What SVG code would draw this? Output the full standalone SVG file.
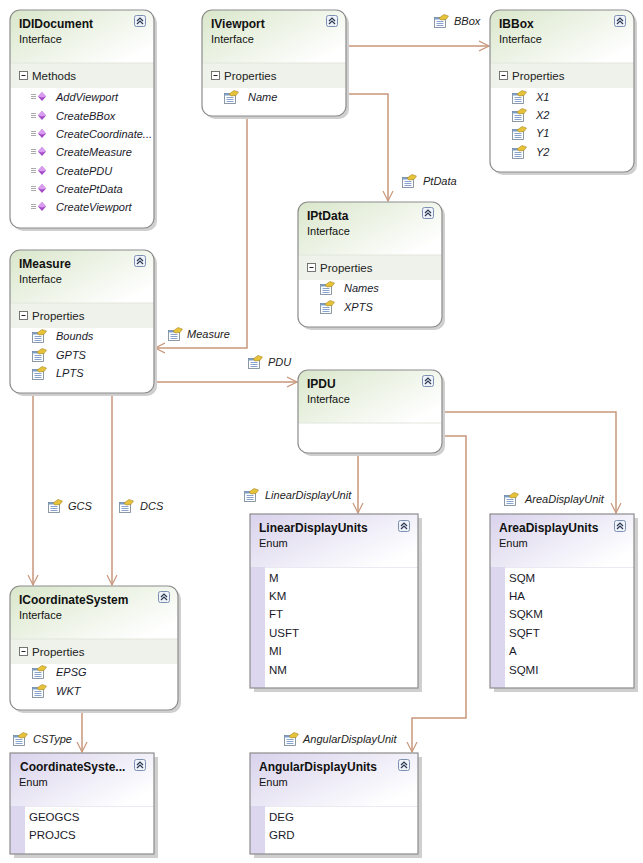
<svg xmlns="http://www.w3.org/2000/svg" xmlns:xlink="http://www.w3.org/1999/xlink" width="643" height="863" viewBox="0 0 643 863">
<style>
text{font-family:"Liberation Sans",Arial,sans-serif;fill:#111}
.title{font-size:12px;font-weight:bold}
.sub{font-size:11px}
.sec{font-size:11.5px;fill:#222}
.item{font-size:11px;font-style:italic;fill:#1a1a2a}
.eitem{font-size:11.5px;fill:#1a1a2a}
.lbl{font-size:11px;font-style:italic;fill:#222}
.shadow{fill:#cfcfcf}
.body{fill:#ffffff}
.outline{fill:none;stroke:#8c8c8c;stroke-width:1.2}
.band{fill:#eef2ea}
.sep{stroke:#e1e6dc;stroke-width:1}
.esep{stroke:#ebe9f2;stroke-width:1}
.stripe{fill:#dcd7ef}
.conn{fill:none;stroke:#c8967a;stroke-width:1.5}
</style>
<defs>
<linearGradient id="gI" x1="0" y1="0" x2="1" y2="0.7">
<stop offset="0" stop-color="#d9e6ca"/>
<stop offset="1" stop-color="#ffffff"/>
</linearGradient>
<linearGradient id="gE" x1="0" y1="0" x2="1" y2="0.7">
<stop offset="0" stop-color="#d8d2ec"/>
<stop offset="1" stop-color="#ffffff"/>
</linearGradient>
<marker id="arr" markerWidth="12" markerHeight="12" refX="10" refY="5" orient="auto" markerUnits="userSpaceOnUse" viewBox="0 0 12 10">
<path d="M0,0 L10,5 L0,10" fill="none" stroke="#c8967a" stroke-width="1.2"/>
</marker>
<g id="col">
<rect x="0.5" y="0.5" width="11" height="11" rx="2" fill="#eef3fa" stroke="#7d90b0" stroke-width="1"/>
<path d="M3,6 L6,3 L9,6 M3,9 L6,6 L9,9" fill="none" stroke="#2a3550" stroke-width="1.2"/>
</g>
<g id="minus">
<rect x="0.5" y="0.5" width="8" height="8" fill="#ffffff" stroke="#666" stroke-width="0.9"/>
<path d="M2.5,4.5 H6.5" stroke="#222" stroke-width="1"/>
</g>
<g id="prop">
<rect x="1.5" y="3.5" width="11" height="10" fill="#ffffff" stroke="#6f7f90" stroke-width="0.8"/>
<rect x="1.5" y="3.5" width="11" height="2" fill="#7c9cc8"/>
<path d="M3.5,7.5 H10.5 M3.5,9.5 H10.5 M3.5,11.5 H10.5" stroke="#6a8cc0" stroke-width="0.8"/>
<polygon points="6,4 11,0.5 15.5,2 13,5.5 8,6" fill="#e6c23a" stroke="#9a7d1a" stroke-width="0.5"/>
</g>
<g id="meth">
<path d="M0,4.5 H5 M0,6.5 H5 M0,8.5 H5" stroke="#a0a0a0" stroke-width="0.9"/>
<polygon points="7,6.5 11,2 15,6.5 11,11" fill="#a24ac6"/>
<polygon points="7,6.5 11,2 15,6.5 11,7.5" fill="#d99cf0"/>
</g>
</defs>

<g id="connectors">
<path class="conn" d="M346,46 H489" marker-end="url(#arr)"/>
<path class="conn" d="M346,94 H388 V201" marker-end="url(#arr)"/>
<path class="conn" d="M247,116 V348 H155" marker-end="url(#arr)"/>
<path class="conn" d="M154,382 H297" marker-end="url(#arr)"/>
<path class="conn" d="M358,453 V513" marker-end="url(#arr)"/>
<path class="conn" d="M442,412 H616 V513" marker-end="url(#arr)"/>
<path class="conn" d="M442,436 H466 V718 H412 V752" marker-end="url(#arr)"/>
<path class="conn" d="M33,393 V585" marker-end="url(#arr)"/>
<path class="conn" d="M112,393 V585" marker-end="url(#arr)"/>
<path class="conn" d="M82,710 V752" marker-end="url(#arr)"/>
<g id="conn-labels">
<use xlink:href="#prop" x="433" y="14"/><text class="lbl" x="454" y="25">BBox</text>
<use xlink:href="#prop" x="401" y="174"/><text class="lbl" x="423" y="185">PtData</text>
<use xlink:href="#prop" x="167" y="327"/><text class="lbl" x="187" y="338">Measure</text>
<use xlink:href="#prop" x="247" y="355"/><text class="lbl" x="268" y="366">PDU</text>
<use xlink:href="#prop" x="243" y="488"/><text class="lbl" x="265" y="499">LinearDisplayUnit</text>
<use xlink:href="#prop" x="503" y="492"/><text class="lbl" x="525" y="503">AreaDisplayUnit</text>
<use xlink:href="#prop" x="47" y="499"/><text class="lbl" x="68" y="510">GCS</text>
<use xlink:href="#prop" x="118" y="499"/><text class="lbl" x="140" y="510">DCS</text>
<use xlink:href="#prop" x="12" y="732"/><text class="lbl" x="33" y="743">CSType</text>
<use xlink:href="#prop" x="283" y="732"/><text class="lbl" x="303" y="743">AngularDisplayUnit</text>
</g>
</g>

<g id="IDIDocument">
<rect class="shadow" x="13" y="13" width="144" height="218" rx="10"/>
<rect class="body" x="10" y="10" width="144" height="218" rx="10"/>
<path d="M10,63 V20 A10,10 0 0 1 20,10 H144 A10,10 0 0 1 154,20 V63 Z" fill="url(#gI)"/>
<rect class="band" x="10.5" y="63" width="143" height="25"/>
<path class="sep" d="M10.5,63 H153.5"/>
<rect class="outline" x="10" y="10" width="144" height="218" rx="10"/>
<text class="title" x="19" y="28">IDIDocument</text>
<text class="sub" x="19" y="43">Interface</text>
<use xlink:href="#col" x="134" y="15"/>
<use xlink:href="#minus" x="19" y="71"/>
<text class="sec" x="32" y="80">Methods</text>
<use xlink:href="#meth" x="31" y="90"/><text class="item" x="56" y="101">AddViewport</text>
<use xlink:href="#meth" x="31" y="109"/><text class="item" x="56" y="120">CreateBBox</text>
<use xlink:href="#meth" x="31" y="127"/><text class="item" x="56" y="138">CreateCoordinate...</text>
<use xlink:href="#meth" x="31" y="145"/><text class="item" x="56" y="156">CreateMeasure</text>
<use xlink:href="#meth" x="31" y="164"/><text class="item" x="56" y="175">CreatePDU</text>
<use xlink:href="#meth" x="31" y="182"/><text class="item" x="56" y="193">CreatePtData</text>
<use xlink:href="#meth" x="31" y="200"/><text class="item" x="56" y="211">CreateViewport</text>
</g>

<g id="IViewport">
<rect class="shadow" x="205" y="13" width="144" height="106" rx="10"/>
<rect class="body" x="202" y="10" width="144" height="106" rx="10"/>
<path d="M202,63 V20 A10,10 0 0 1 212,10 H336 A10,10 0 0 1 346,20 V63 Z" fill="url(#gI)"/>
<rect class="band" x="202.5" y="63" width="143" height="25"/>
<path class="sep" d="M202.5,63 H345.5"/>
<rect class="outline" x="202" y="10" width="144" height="106" rx="10"/>
<text class="title" x="211" y="28">IViewport</text>
<text class="sub" x="211" y="43">Interface</text>
<use xlink:href="#col" x="326" y="15"/>
<use xlink:href="#minus" x="211" y="71"/>
<text class="sec" x="224" y="80">Properties</text>
<use xlink:href="#prop" x="223" y="90"/><text class="item" x="248" y="101">Name</text>
</g>

<g id="IBBox">
<rect class="shadow" x="493" y="13" width="144" height="162" rx="10"/>
<rect class="body" x="490" y="10" width="144" height="162" rx="10"/>
<path d="M490,63 V20 A10,10 0 0 1 500,10 H624 A10,10 0 0 1 634,20 V63 Z" fill="url(#gI)"/>
<rect class="band" x="490.5" y="63" width="143" height="25"/>
<path class="sep" d="M490.5,63 H633.5"/>
<rect class="outline" x="490" y="10" width="144" height="162" rx="10"/>
<text class="title" x="499" y="28">IBBox</text>
<text class="sub" x="499" y="43">Interface</text>
<use xlink:href="#col" x="614" y="15"/>
<use xlink:href="#minus" x="499" y="71"/>
<text class="sec" x="512" y="80">Properties</text>
<use xlink:href="#prop" x="511" y="90"/><text class="item" x="536" y="101">X1</text>
<use xlink:href="#prop" x="511" y="108"/><text class="item" x="536" y="119">X2</text>
<use xlink:href="#prop" x="511" y="126"/><text class="item" x="536" y="137">Y1</text>
<use xlink:href="#prop" x="511" y="145"/><text class="item" x="536" y="156">Y2</text>
</g>

<g id="IPtData">
<rect class="shadow" x="301" y="205" width="144" height="125" rx="10"/>
<rect class="body" x="298" y="202" width="144" height="125" rx="10"/>
<path d="M298,255 V212 A10,10 0 0 1 308,202 H432 A10,10 0 0 1 442,212 V255 Z" fill="url(#gI)"/>
<rect class="band" x="298.5" y="255" width="143" height="25"/>
<path class="sep" d="M298.5,255 H441.5"/>
<rect class="outline" x="298" y="202" width="144" height="125" rx="10"/>
<text class="title" x="307" y="220">IPtData</text>
<text class="sub" x="307" y="235">Interface</text>
<use xlink:href="#col" x="422" y="207"/>
<use xlink:href="#minus" x="307" y="263"/>
<text class="sec" x="320" y="272">Properties</text>
<use xlink:href="#prop" x="319" y="281"/><text class="item" x="344" y="292">Names</text>
<use xlink:href="#prop" x="319" y="300"/><text class="item" x="344" y="311">XPTS</text>
</g>

<g id="IMeasure">
<rect class="shadow" x="13" y="253" width="144" height="143" rx="10"/>
<rect class="body" x="10" y="250" width="144" height="143" rx="10"/>
<path d="M10,303 V260 A10,10 0 0 1 20,250 H144 A10,10 0 0 1 154,260 V303 Z" fill="url(#gI)"/>
<rect class="band" x="10.5" y="303" width="143" height="25"/>
<path class="sep" d="M10.5,303 H153.5"/>
<rect class="outline" x="10" y="250" width="144" height="143" rx="10"/>
<text class="title" x="19" y="268">IMeasure</text>
<text class="sub" x="19" y="283">Interface</text>
<use xlink:href="#col" x="134" y="255"/>
<use xlink:href="#minus" x="19" y="311"/>
<text class="sec" x="32" y="320">Properties</text>
<use xlink:href="#prop" x="31" y="329"/><text class="item" x="56" y="340">Bounds</text>
<use xlink:href="#prop" x="31" y="348"/><text class="item" x="56" y="359">GPTS</text>
<use xlink:href="#prop" x="31" y="366"/><text class="item" x="56" y="377">LPTS</text>
</g>

<g id="IPDU">
<rect class="shadow" x="301" y="373" width="144" height="83" rx="10"/>
<rect class="body" x="298" y="370" width="144" height="83" rx="10"/>
<path d="M298,423 V380 A10,10 0 0 1 308,370 H432 A10,10 0 0 1 442,380 V423 Z" fill="url(#gI)"/>
<path class="sep" d="M298.5,423 H441.5"/>
<rect class="outline" x="298" y="370" width="144" height="83" rx="10"/>
<text class="title" x="307" y="388">IPDU</text>
<text class="sub" x="307" y="403">Interface</text>
<use xlink:href="#col" x="422" y="375"/>
</g>

<g id="ICoordinateSystem">
<rect class="shadow" x="13" y="589" width="168" height="124" rx="10"/>
<rect class="body" x="10" y="586" width="168" height="124" rx="10"/>
<path d="M10,639 V596 A10,10 0 0 1 20,586 H168 A10,10 0 0 1 178,596 V639 Z" fill="url(#gI)"/>
<rect class="band" x="10.5" y="639" width="167" height="25"/>
<path class="sep" d="M10.5,639 H177.5"/>
<rect class="outline" x="10" y="586" width="168" height="124" rx="10"/>
<text class="title" x="19" y="604">ICoordinateSystem</text>
<text class="sub" x="19" y="619">Interface</text>
<use xlink:href="#col" x="158" y="591"/>
<use xlink:href="#minus" x="19" y="647"/>
<text class="sec" x="32" y="656">Properties</text>
<use xlink:href="#prop" x="31" y="665"/><text class="item" x="56" y="676">EPSG</text>
<use xlink:href="#prop" x="31" y="684"/><text class="item" x="56" y="695">WKT</text>
</g>

<g id="LinearDisplayUnits">
<rect class="shadow" x="254" y="518" width="168" height="174"/>
<rect class="body" x="250" y="514" width="168" height="174"/>
<rect x="250" y="514" width="168" height="53" fill="url(#gE)"/>
<rect class="stripe" x="250" y="567" width="15" height="121"/>
<path class="esep" d="M265,567.5 H418"/>
<rect class="outline" x="250" y="514" width="168" height="174"/>
<text class="title" x="259" y="532">LinearDisplayUnits</text>
<text class="sub" x="259" y="547">Enum</text>
<use xlink:href="#col" x="398" y="520"/>
<text class="eitem" x="269" y="582">M</text>
<text class="eitem" x="269" y="600">KM</text>
<text class="eitem" x="269" y="618">FT</text>
<text class="eitem" x="269" y="637">USFT</text>
<text class="eitem" x="269" y="655">MI</text>
<text class="eitem" x="269" y="674">NM</text>
</g>

<g id="AreaDisplayUnits">
<rect class="shadow" x="494" y="518" width="144" height="174"/>
<rect class="body" x="490" y="514" width="144" height="174"/>
<rect x="490" y="514" width="144" height="53" fill="url(#gE)"/>
<rect class="stripe" x="490" y="567" width="15" height="121"/>
<path class="esep" d="M505,567.5 H634"/>
<rect class="outline" x="490" y="514" width="144" height="174"/>
<text class="title" x="499" y="532">AreaDisplayUnits</text>
<text class="sub" x="499" y="547">Enum</text>
<use xlink:href="#col" x="614" y="520"/>
<text class="eitem" x="509" y="582">SQM</text>
<text class="eitem" x="509" y="600">HA</text>
<text class="eitem" x="509" y="618">SQKM</text>
<text class="eitem" x="509" y="637">SQFT</text>
<text class="eitem" x="509" y="655">A</text>
<text class="eitem" x="509" y="674">SQMI</text>
</g>

<g id="CoordinateSystemType">
<rect class="shadow" x="14" y="757" width="144" height="101"/>
<rect class="body" x="10" y="753" width="144" height="101"/>
<rect x="10" y="753" width="144" height="53" fill="url(#gE)"/>
<rect class="stripe" x="10" y="806" width="15" height="48"/>
<path class="esep" d="M25,806.5 H154"/>
<rect class="outline" x="10" y="753" width="144" height="101"/>
<text class="title" x="20" y="771">CoordinateSyste...</text>
<text class="sub" x="19" y="786">Enum</text>
<use xlink:href="#col" x="134" y="759"/>
<text class="eitem" x="29" y="821">GEOGCS</text>
<text class="eitem" x="29" y="839">PROJCS</text>
</g>

<g id="AngularDisplayUnits">
<rect class="shadow" x="254" y="757" width="168" height="101"/>
<rect class="body" x="250" y="753" width="168" height="101"/>
<rect x="250" y="753" width="168" height="53" fill="url(#gE)"/>
<rect class="stripe" x="250" y="806" width="15" height="48"/>
<path class="esep" d="M265,806.5 H418"/>
<rect class="outline" x="250" y="753" width="168" height="101"/>
<text class="title" x="259" y="771">AngularDisplayUnits</text>
<text class="sub" x="259" y="786">Enum</text>
<use xlink:href="#col" x="398" y="759"/>
<text class="eitem" x="269" y="821">DEG</text>
<text class="eitem" x="269" y="839">GRD</text>
</g>
</svg>
